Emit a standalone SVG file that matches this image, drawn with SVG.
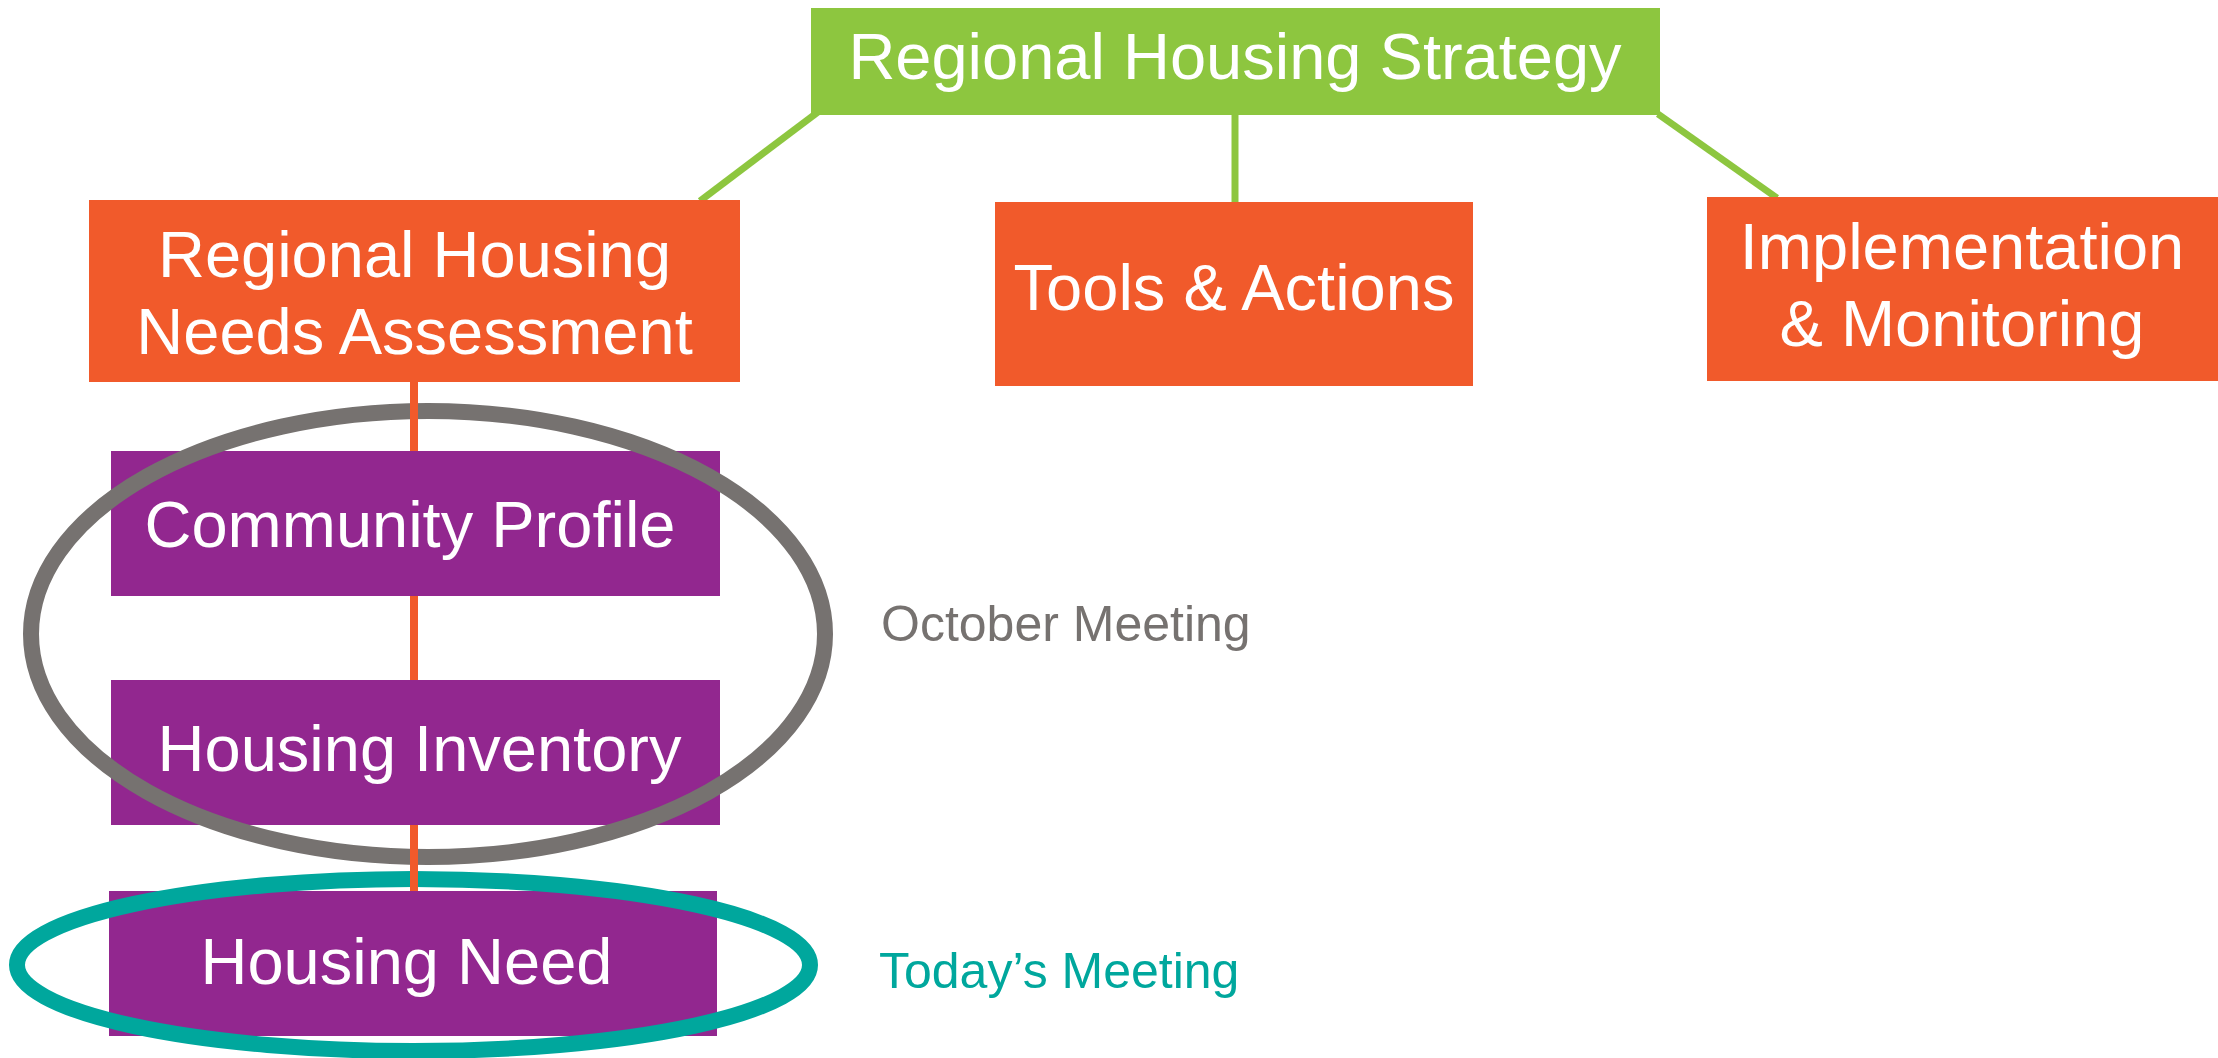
<svg xmlns="http://www.w3.org/2000/svg" width="2218" height="1058" viewBox="0 0 2218 1058">
<style>
.green{fill:#8DC63F}
.orange{fill:#F15A2B}
.purple{fill:#92278F}
.lbl{font-family:"Liberation Sans",Arial,Helvetica,sans-serif;font-size:65px;fill:#FFFFFF;text-anchor:middle}
.note{font-family:"Liberation Sans",Arial,Helvetica,sans-serif;font-size:50px}
.gline{stroke:#8DC63F;stroke-width:7;fill:none}
.oline{stroke:#F15A2B;stroke-width:8;fill:none}
</style>
<rect width="2218" height="1058" fill="#FFFFFF"/>
<g id="connectors">
<line class="gline" x1="700" y1="201" x2="818" y2="112"/>
<line class="gline" x1="1235" y1="114" x2="1235" y2="203"/>
<line class="gline" x1="1658" y1="114" x2="1777" y2="198"/>
</g>
<g id="regional-housing-strategy">
<rect class="green" x="811" y="8" width="849" height="107"/>
<text class="lbl" x="1235" y="79">Regional Housing Strategy</text>
</g>
<g id="rhna">
<rect class="orange" x="89" y="200" width="651" height="182"/>
<text class="lbl" x="414.5" y="277">Regional Housing</text>
<text class="lbl" x="414.5" y="354">Needs Assessment</text>
</g>
<g id="tools-actions">
<rect class="orange" x="995" y="202" width="478" height="184"/>
<text class="lbl" x="1234" y="310">Tools &amp; Actions</text>
</g>
<g id="implementation-monitoring">
<rect class="orange" x="1707" y="197" width="511" height="184"/>
<text class="lbl" x="1962" y="269">Implementation</text>
<text class="lbl" x="1962" y="346">&amp; Monitoring</text>
</g>
<g id="community-profile">
<rect class="purple" x="111" y="451" width="609" height="145"/>
<text class="lbl" x="410" y="547">Community Profile</text>
</g>
<g id="housing-inventory">
<rect class="purple" x="111" y="680" width="609" height="145"/>
<text class="lbl" x="419.5" y="771">Housing Inventory</text>
</g>
<g id="housing-need">
<rect class="purple" x="109" y="891" width="608" height="145"/>
<text class="lbl" x="406.5" y="984">Housing Need</text>
</g>
<g id="october-meeting">
<ellipse cx="428" cy="634" rx="397" ry="223" fill="none" stroke="#767270" stroke-width="16"/>
<text class="note" x="881" y="641" fill="#767270">October Meeting</text>
</g>
<g id="todays-meeting">
<ellipse cx="413.5" cy="965" rx="396.5" ry="86" fill="none" stroke="#00A79D" stroke-width="16"/>
<text class="note" x="879" y="988" fill="#00A79D" font-size="48.5">Today’s Meeting</text>
</g>
<g id="connectors-rhna">
<line class="oline" x1="414" y1="382" x2="414" y2="451"/>
<line class="oline" x1="414" y1="596" x2="414" y2="680"/>
<line class="oline" x1="414" y1="825" x2="414" y2="891"/>
</g>
</svg>
